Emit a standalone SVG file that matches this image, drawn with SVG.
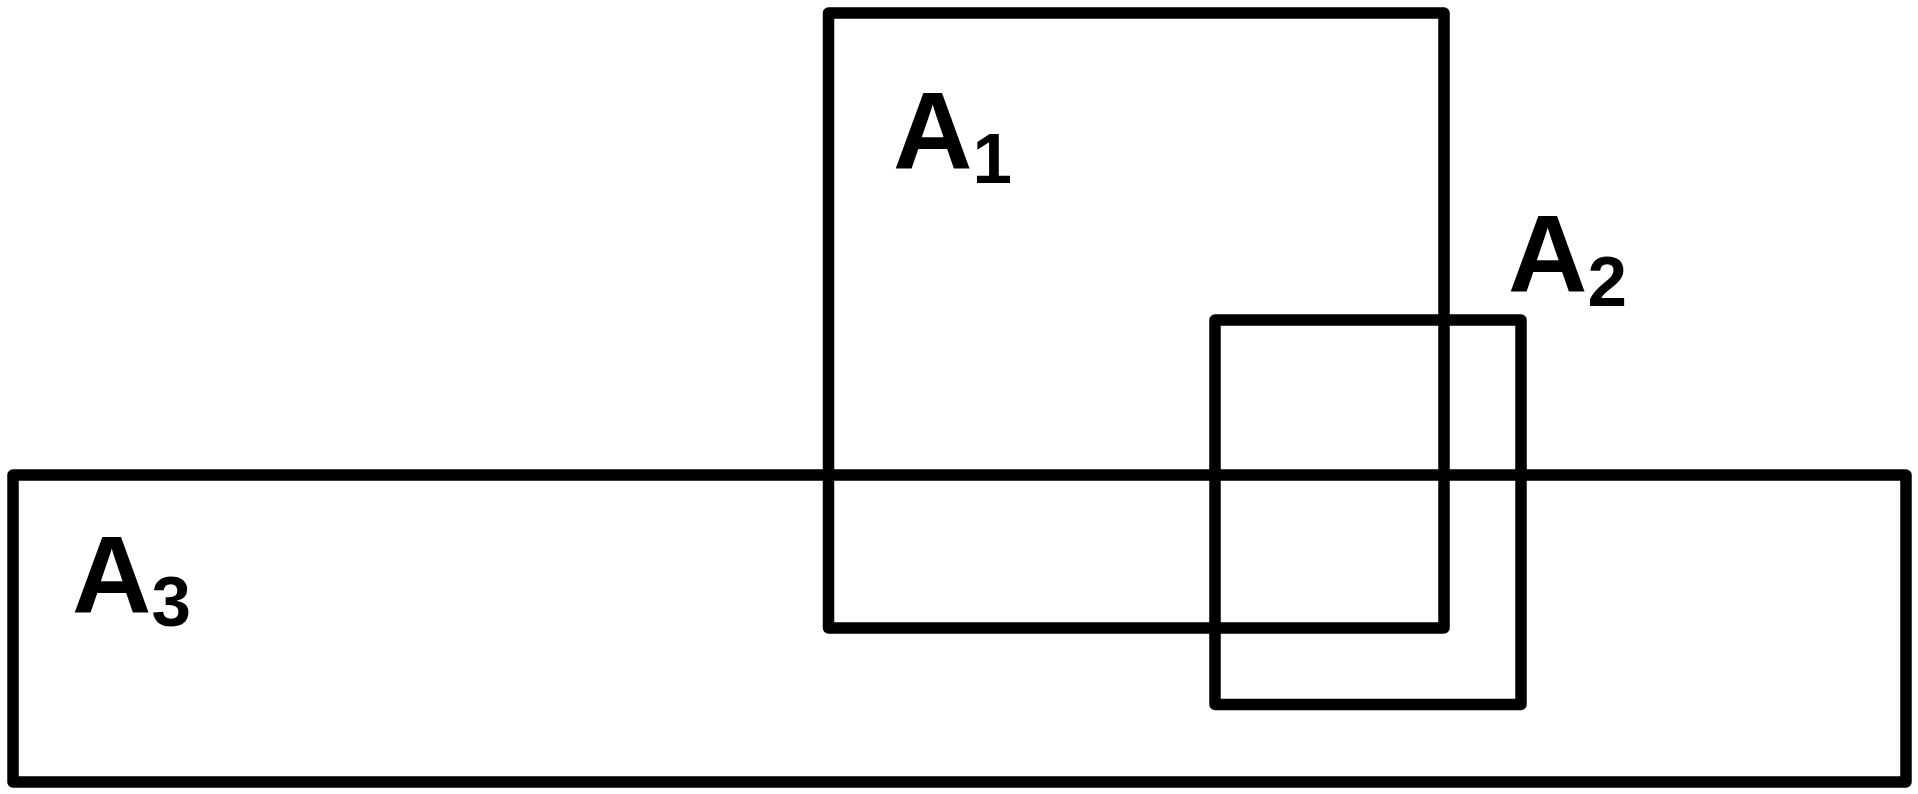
<svg xmlns="http://www.w3.org/2000/svg" width="1918" height="794" viewBox="0 0 1918 794">
<style>
.box{fill:none;stroke:#000;stroke-width:11.5;stroke-linejoin:round}
.lbl{font-family:"Liberation Sans",Arial,sans-serif;font-weight:bold;font-size:110px;fill:#000}
.sub{font-size:71px}
</style>
<rect width="1918" height="794" fill="#fff"/>
<g id="A1">
<rect class="box" x="828.5" y="13" width="615.5" height="615"/>
<text class="lbl" x="893" y="168">A<tspan class="sub" dy="15">1</tspan></text>
</g>
<g id="A2">
<rect class="box" x="1215" y="320" width="306" height="384.5"/>
<text class="lbl" x="1508" y="291">A<tspan class="sub" dy="15">2</tspan></text>
</g>
<g id="A3">
<rect class="box" x="13" y="475" width="1893" height="307"/>
<text class="lbl" x="72" y="612">A<tspan class="sub" dy="14">3</tspan></text>
</g>
<g id="connectors"></g>
</svg>
